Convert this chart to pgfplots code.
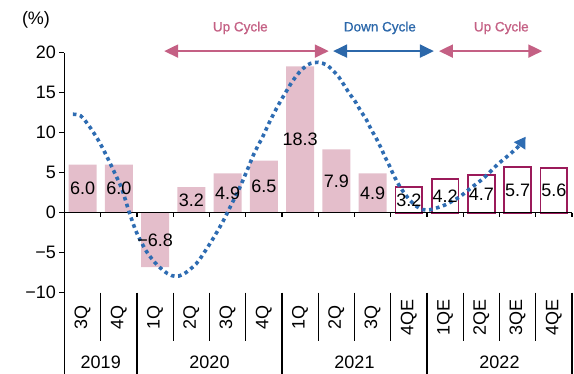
\documentclass[border=0pt]{standalone}
\usepackage{pgfplots}
\pgfplotsset{compat=1.18}
\usepackage{pgfplotstable}
\usetikzlibrary{arrows.meta}
\usepackage{fontspec}
\setmainfont{Liberation Sans}
\newfontfamily\cycfont[FakeBold=0.8]{Liberation Sans}

\definecolor{barpink}{RGB}{228,190,203}
\definecolor{estline}{RGB}{155,26,90}
\definecolor{dotblue}{RGB}{46,108,178}
\definecolor{upc}{RGB}{196,96,132}
\definecolor{downc}{RGB}{44,104,170}

\newcommand\ticks{\fontsize{18}{20}\selectfont}
\newcommand\cyc{\cycfont\fontsize{13.5}{16}\selectfont}

% growth rates by quarter (x = position on the axis)
\pgfplotstableread{
x v
0 6.0
1 6.0
2 -6.8
3 3.2
4 4.9
5 6.5
6 18.3
7 7.9
8 4.9
}\actual
\pgfplotstableread{
x v
9 3.2
10 4.2
11 4.7
12 5.7
13 5.6
}\estimate

% value label with a true minus sign
\def\fixminus#1#2\relax{\ifx-#1−#2\else#1#2\fi}
\newcommand\barlabel{%
  \pgfmathprintnumberto[fixed,fixed zerofill,precision=1,assume math mode=true]{\pgfplotspointmeta}{\lbltmp}%
  \expandafter\fixminus\lbltmp\relax}

\begin{document}
\begin{tikzpicture}
\begin{axis}[
  at={(0,0)}, anchor=south west,
  scale only axis, width=507.5pt, height=240pt,
  xmin=-0.5, xmax=13.5, ymin=-10, ymax=20,
  axis y line*=left, axis x line=none,
  y axis line style={black, line width=1.1pt},
  ytick={-10,-5,0,5,10,15,20},
  yticklabels={−10,−5,0,5,10,15,20},
  ytick align=outside, major tick length=5pt,
  ytick style={black, line width=1.1pt},
  yticklabel style={font=\ticks},
  xtick=\empty,
  clip=false,
]
% bars
\addplot[ybar, bar width=0.77, bar shift=0pt, fill=barpink, draw=none]
  table[x=x, y=v]{\actual};
\addplot[ybar, bar width=0.735, bar shift=0pt, fill=white, draw=estline, line width=1.7pt]
  table[x=x, y=v]{\estimate};

% zero line with category ticks
\draw[black, line width=1.1pt] (axis cs:-0.5,0) -- (axis cs:13.5,0);
\pgfplotsinvokeforeach{0.5,1.5,...,13.5}{
  \draw[black, line width=1.1pt] (axis cs:#1,0) -- ++(0pt,-4.5pt);
}

% value labels at mid-bar
\addplot[draw=none, point meta=\thisrow{v}, nodes near coords={\barlabel},
  nodes near coords align=center,
  every node near coord/.append style={font=\ticks, inner sep=0pt}]
  table[x=x, y expr=\thisrow{v}/2]{\actual};
\addplot[draw=none, point meta=\thisrow{v}, nodes near coords={\barlabel},
  nodes near coords align=center,
  every node near coord/.append style={font=\ticks, inner sep=0pt}]
  table[x=x, y expr=\thisrow{v}/2]{\estimate};

% category axis below the plot
\pgfplotsinvokeforeach{-0.5,1.5,5.5,9.5,13.5}{
  \draw[black, line width=1.1pt] (axis cs:#1,-10) -- ++(0pt,-81.3pt);
}
\pgfplotsinvokeforeach{0.5,2.5,3.5,4.5,6.5,7.5,8.5,10.5,11.5,12.5}{
  \draw[black, line width=1.1pt] (axis cs:#1,-10) -- ++(0pt,-48.4pt);
}
\node[rotate=90, font=\ticks] at ([yshift=-25pt]axis cs:0,-10) {3Q};
\node[rotate=90, font=\ticks] at ([yshift=-25pt]axis cs:1,-10) {4Q};
\node[rotate=90, font=\ticks] at ([yshift=-25pt]axis cs:2,-10) {1Q};
\node[rotate=90, font=\ticks] at ([yshift=-25pt]axis cs:3,-10) {2Q};
\node[rotate=90, font=\ticks] at ([yshift=-25pt]axis cs:4,-10) {3Q};
\node[rotate=90, font=\ticks] at ([yshift=-25pt]axis cs:5,-10) {4Q};
\node[rotate=90, font=\ticks] at ([yshift=-25pt]axis cs:6,-10) {1Q};
\node[rotate=90, font=\ticks] at ([yshift=-25pt]axis cs:7,-10) {2Q};
\node[rotate=90, font=\ticks] at ([yshift=-25pt]axis cs:8,-10) {3Q};
\node[rotate=90, font=\ticks] at ([yshift=-25pt]axis cs:9,-10) {4QE};
\node[rotate=90, font=\ticks] at ([yshift=-25pt]axis cs:10,-10) {1QE};
\node[rotate=90, font=\ticks] at ([yshift=-25pt]axis cs:11,-10) {2QE};
\node[rotate=90, font=\ticks] at ([yshift=-25pt]axis cs:12,-10) {3QE};
\node[rotate=90, font=\ticks] at ([yshift=-25pt]axis cs:13,-10) {4QE};
\node[font=\ticks] at ([yshift=-70pt]axis cs:0.5,-10) {2019};
\node[font=\ticks] at ([yshift=-70pt]axis cs:3.5,-10) {2020};
\node[font=\ticks] at ([yshift=-70pt]axis cs:7.5,-10) {2021};
\node[font=\ticks] at ([yshift=-70pt]axis cs:11.5,-10) {2022};

% unit
\node[font=\ticks] at ([xshift=-28.5pt, yshift=32.7pt]axis cs:-0.5,20) {(\%)};

% cycle phases
\draw[upc, line width=2pt, {Triangle[length=14pt,width=13pt]}-{Triangle[length=14pt,width=13pt]}]
  (axis cs:2.25,20.2) -- (axis cs:6.79,20.2);
\draw[downc, line width=2pt, {Triangle[length=14pt,width=13pt]}-{Triangle[length=14pt,width=13pt]}]
  (axis cs:6.91,20.2) -- (axis cs:9.69,20.2);
\draw[upc, line width=2pt, {Triangle[length=14pt,width=13pt]}-{Triangle[length=14pt,width=13pt]}]
  (axis cs:9.83,20.2) -- (axis cs:12.68,20.2);
\node[upc, font=\cyc] at (axis cs:4.35,23.1) {Up Cycle};
\node[downc, font=\cyc] at (axis cs:8.2,23.1) {Down Cycle};
\node[upc, font=\cyc] at (axis cs:11.55,23.1) {Up Cycle};

% cycle trend curve
\addplot[smooth, draw=dotblue, line width=3.6pt, dash pattern=on 3.6pt off 3.6pt,
  -{Triangle[length=11pt,width=13pt]}] coordinates {
  (-0.27,12.3) (-0.05,12.1) (0.2,10.7) (0.44,9.0) (0.65,7.2) (0.85,5.3)
  (1.08,3.0) (1.29,0.0) (1.49,-2.5) (1.77,-4.9) (2.05,-6.5) (2.34,-7.6)
  (2.55,-7.95) (2.78,-7.7) (3.13,-6.4) (3.38,-4.8) (3.63,-3.0) (3.87,-1.1)
  (4.07,0.7) (4.31,2.9) (4.53,5.2) (4.73,7.4) (4.98,9.6) (5.12,11.0)
  (5.31,12.7) (5.46,13.95) (5.61,15.1) (5.77,16.3) (5.95,17.4) (6.14,18.25)
  (6.29,18.66) (6.5,18.8) (6.72,18.5) (6.9,17.8) (7.06,17.0) (7.22,15.9)
  (7.36,14.9) (7.52,13.9) (7.66,12.8) (7.83,11.6) (7.96,10.4) (8.1,9.3)
  (8.23,8.1) (8.35,6.9) (8.47,5.8) (8.58,4.7) (8.72,3.5) (8.88,2.4)
  (9.04,1.5) (9.21,0.8) (9.37,0.4) (9.56,0.35) (9.77,0.6) (9.99,0.95)
  (10.2,1.45) (10.41,2.0) (10.6,2.7) (10.8,3.4) (11.03,4.2) (11.24,5.1)
  (11.44,6.0) (11.65,6.8) (11.86,7.6) (12.05,8.4) (12.22,9.5)
};
\end{axis}
\pgfresetboundingbox
\useasboundingbox (-64.5pt,-81.3pt) rectangle (509.5pt,292.7pt);
\end{tikzpicture}
\end{document}
